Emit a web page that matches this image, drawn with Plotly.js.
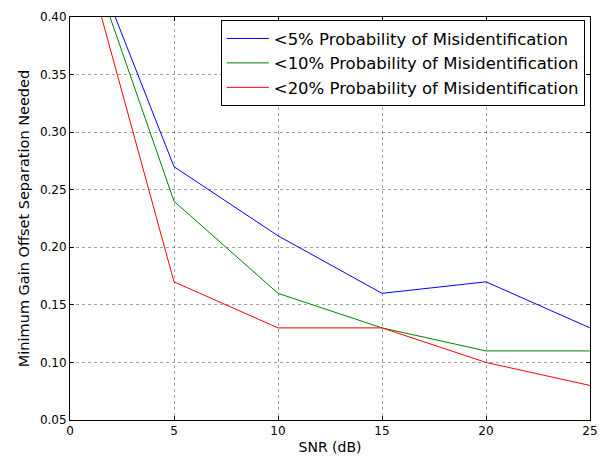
<!DOCTYPE html>
<html><head><meta charset="utf-8">
<script src="https://cdn.plot.ly/plotly-3.0.1.min.js"></script>
<style>html,body{margin:0;padding:0;background:#fff}#c{width:614px;height:461px}</style>
</head><body><div id="c"></div>
<script>
const snr = [0, 5, 10, 15, 20, 25];
const p5 = [0.50, 0.27, 0.21, 0.16, 0.17, 0.13];
const p10 = [0.50, 0.24, 0.16, 0.13, 0.11, 0.11];
const p20 = [0.50, 0.17, 0.13, 0.13, 0.10, 0.08];
const names = ['<5% Probability of Misidentification', '<10% Probability of Misidentification', '<20% Probability of Misidentification'];
const xTicks = [0, 5, 10, 15, 20, 25];
const yTicks = [0.05, 0.10, 0.15, 0.20, 0.25, 0.30, 0.35, 0.40];
const font = 'DejaVu Sans, sans-serif';
const mk = (y, n, c) => ({x: snr, y: y, name: n, type: 'scatter', mode: 'lines', line: {color: c, width: 1}});
const data = [mk(p5, names[0], '#0000ff'), mk(p10, names[1], '#008000'), mk(p20, names[2], '#ff0000')];
const ax = {
  showline: true, linecolor: '#000', linewidth: 1, mirror: 'ticks',
  ticks: 'inside', ticklen: 4, tickcolor: '#000',
  showgrid: true, gridcolor: '#444', griddash: 'dot', gridwidth: 0.5,
  zeroline: false, tickfont: {family: font, size: 12, color: '#000'}
};
const layout = {
  width: 614, height: 461,
  margin: {l: 70, r: 24, t: 17, b: 41},
  paper_bgcolor: '#fff', plot_bgcolor: '#fff',
  font: {family: font, color: '#000'},
  xaxis: Object.assign({}, ax, {range: [0, 25], tickvals: xTicks, ticktext: xTicks.map(String),
    title: {text: 'SNR (dB)', font: {family: font, size: 14}, standoff: 4}}),
  yaxis: Object.assign({}, ax, {range: [0.05, 0.40], tickvals: yTicks, ticktext: yTicks.map(v => v.toFixed(2)),
    title: {text: 'Minimum Gain Offset Separation Needed', font: {family: font, size: 14.5}, standoff: 6}}),
  legend: {x: 0.99, y: 0.992, xanchor: 'right', yanchor: 'top', bordercolor: '#000', borderwidth: 1,
    bgcolor: '#fff', font: {family: font, size: 16.5}, tracegroupgap: 0, itemwidth: 42},
  showlegend: true
};
Plotly.newPlot('c', data, layout, {staticPlot: true, displayModeBar: false});
</script></body></html>
